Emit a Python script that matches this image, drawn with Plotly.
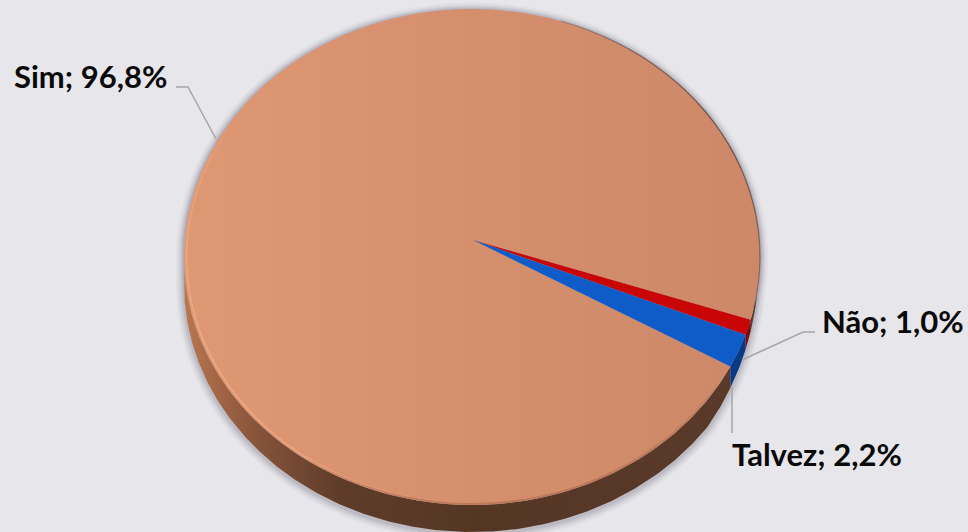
import numpy as np
import plotly.graph_objects as go

categories = ["Sim", "Não", "Talvez"]
values = [96.8, 1.0, 2.2]
top_colors = ["#D48E6C", "#C90606", "#0F5BC8"]
side_colors = ["#6B4430", "#7A0A0A", "#0B3A85"]
label_text = ["Sim; 96,8%", "Não; 1,0%", "Talvez; 2,2%"]

W, H = 968, 532
CX, CY, RX, RY = 472, 257, 288, 248
DEPTH = 27 / RY
APEX = (1 / RX, 17 / RY)
ROTATION = 116.2
BG = "#E7E6EA"
FONT = "Lato"

def rim(a0, a1, n=None):
    n = n or max(3, int(abs(a1 - a0) * 1.5))
    t = np.radians(np.linspace(a0, a1, n))
    return np.sin(t), np.cos(t)

def wall_depth(deg):
    # the wall fades out towards the right-hand extreme of the disc
    d = np.mod(deg, 360)
    return DEPTH * np.clip((d - 98) / 27, 0, 1) ** .6

fig = go.Figure()
plain = dict(mode="lines", hoverinfo="skip", showlegend=False)

# soft shadow below the disc
ang = np.linspace(0, 360, 361)
xs, ys = rim(0, 360, 361)
for grow, alpha in ((8, .05), (6, .07), (4, .09), (2, .12)):
    d = np.where((ang > 90) & (ang < 270), wall_depth(ang), 0)
    d = np.where(ang >= 270, 0, d)
    xb = xs * (1 + grow / RX)
    yb = ys * (1 + grow / RY) - d - 1.5 / RY
    fig.add_trace(go.Scatter(x=xb, y=yb, fill="toself",
                             fillcolor=f"rgba(90,90,110,{alpha})", line=dict(width=0), **plain))
for grow, alpha in ((4, .05), (2, .08)):
    fig.add_trace(go.Scatter(x=xs * (1 + grow / RX), y=ys * (1 + grow / RY) - 1 / RY, fill="toself",
                             fillcolor=f"rgba(90,90,110,{alpha})", line=dict(width=0), **plain))

# slice angular spans, clockwise from 12 o'clock
spans = []
start = ROTATION
for v in values:
    spans.append((start, start + v * 3.6))
    start += v * 3.6

# side wall
side_scale = [[0, "#B9774F"], [.07, "#9E6344"], [.13, "#85533A"], [.27, "#5F3C2A"], [.5, "#553625"], [1, "#5A3A2A"]]
for i, (a0, a1) in enumerate(spans):
    ranges = []
    for k in (0, 360):
        l, h = max(a0, 90 + k), min(a1, 270 + k)
        if l < h:
            ranges.append((l, h))
    for l, h in ranges:
        x, y = rim(l, h)
        deg = np.linspace(l, h, len(x))
        depth = wall_depth(deg)
        px = np.r_[x, x[::-1]]
        py = np.r_[y, (y - depth)[::-1]]
        kw = dict(fillcolor=side_colors[i])
        if categories[i] == "Sim":
            kw = dict(fillgradient=dict(type="horizontal", colorscale=side_scale, start=-1, stop=1))
        fig.add_trace(go.Scatter(x=px, y=py, fill="toself", line=dict(width=0), **kw, **plain))

# top face
top_scale = [[0, "#DE9873"], [.5, "#D58F6D"], [1, "#CC8868"]]
for i, (a0, a1) in enumerate(spans):
    x, y = rim(a0, a1)
    px = np.r_[APEX[0], x, APEX[0]]
    py = np.r_[APEX[1], y, APEX[1]]
    kw = dict(fillcolor=top_colors[i])
    if categories[i] == "Sim":
        kw = dict(fillgradient=dict(type="horizontal", colorscale=top_scale, start=-1, stop=1))
    fig.add_trace(go.Scatter(x=px, y=py, fill="toself", line=dict(width=0), **kw, **plain))

# lit bevel along the left and lower rim
inset = 1 - 2.5 / RX
for a in range(190, 300, 3):
    x, y = rim(a, a + 3, 4)
    s = np.sin(np.radians((a - 190) / 110 * 180)) ** .6
    fig.add_trace(go.Scatter(x=x * inset, y=y * inset, line=dict(color=f"rgba(250,178,138,{.7 * s:.2f})", width=1.5), **plain))
# soft shade where the top face meets the front wall
for a in range(118, 214, 3):
    x, y = rim(a, a + 3, 4)
    s = np.sin(np.radians((a - 118) / 96 * 180)) ** .5
    fig.add_trace(go.Scatter(x=x * (1 - 1 / RX), y=y * (1 - 1 / RY), line=dict(color=f"rgba(170,105,75,{.6 * s:.2f})", width=2), **plain))
# dark hairline along the upper right rim
for a in range(15, 102, 3):
    x, y = rim(a, a + 3, 4)
    s = np.sin(np.radians((a - 15) / 87 * 180)) ** .4
    fig.add_trace(go.Scatter(x=x, y=y, line=dict(color=f"rgba(95,65,50,{.8 * s:.2f})", width=1.2), **plain))

# leader lines (pixel layout)
def P(px, py):
    return (px - CX) / RX, (CY - py) / RY

leaders = [
    [(176, 87), (188, 87), (216, 139)],
    [(815, 332), (803, 332), (742, 360)],
    [(732, 433), (732, 387)],
]
for pts in leaders:
    c = [P(*p) for p in pts]
    fig.add_trace(go.Scatter(x=[a for a, _ in c], y=[b for _, b in c],
                             line=dict(color="#A6A6A6", width=1.5), **plain))

positions = [(12, 76, "left"), (820, 321, "left"), (730, 454, "left")]
for t, (px, py, al) in zip(label_text, positions):
    ax, ay = P(px, py)
    fig.add_annotation(x=ax, y=ay, text=f"<b>{t}</b>", showarrow=False, xanchor=al, yanchor="middle",
                       font=dict(family=FONT, size=31, color="#0A0A0A"))

fig.update_layout(
    width=W, height=H, margin=dict(l=0, r=0, t=0, b=0),
    paper_bgcolor=BG, plot_bgcolor=BG, showlegend=False,
    xaxis=dict(range=[-CX / RX, (W - CX) / RX], visible=False, fixedrange=True),
    yaxis=dict(range=[(CY - H) / RY, CY / RY], visible=False, fixedrange=True),
)
fig.write_html("out.html", config={"displayModeBar": False},
               post_script="document.body.style.margin='0';document.body.style.background='#E7E6EA';")
